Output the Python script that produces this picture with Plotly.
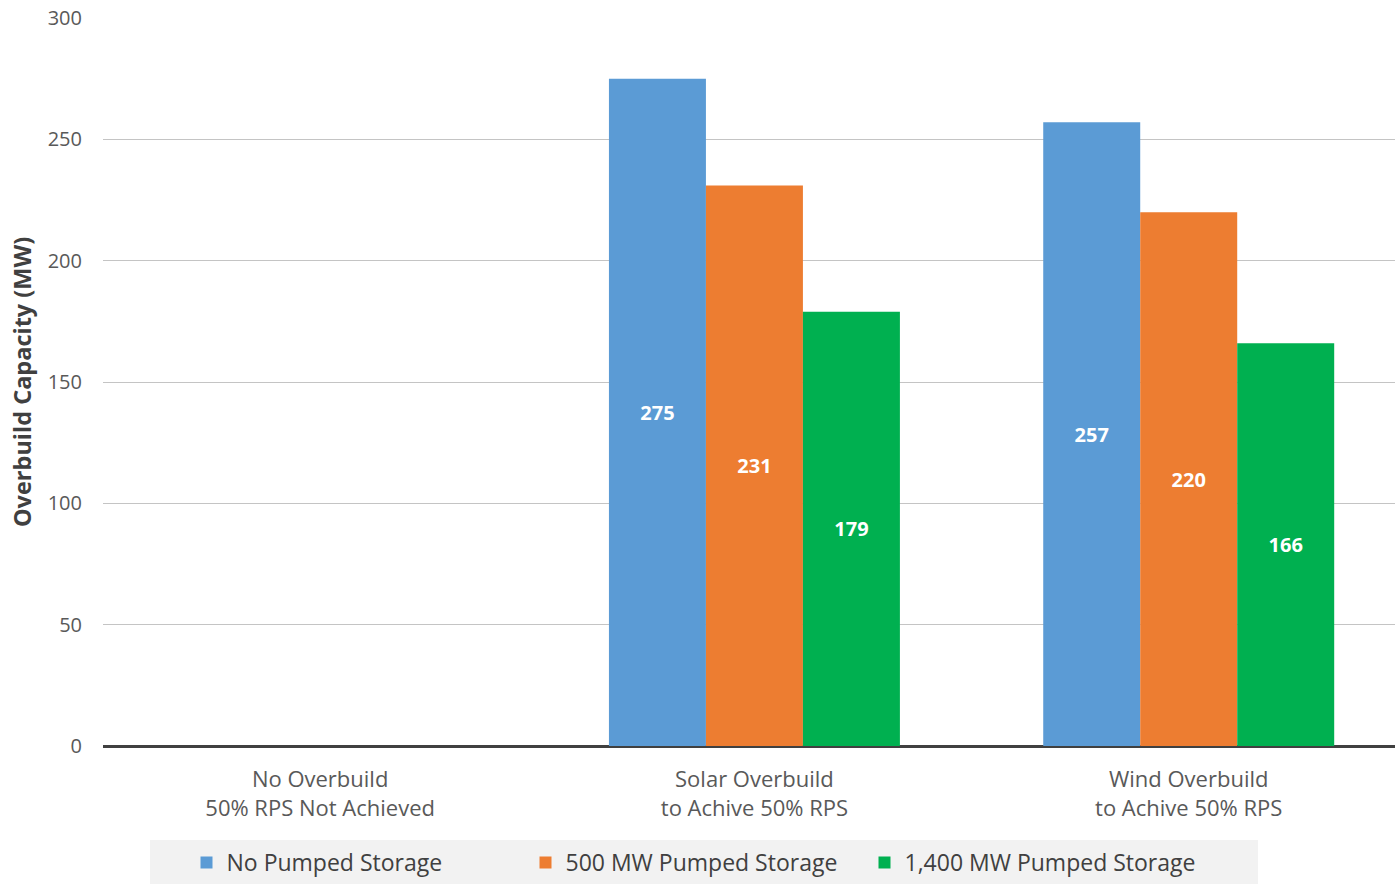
import plotly.graph_objects as go

categories = ["No Overbuild<br>50% RPS Not Achieved",
              "Solar Overbuild<br>to Achive 50% RPS",
              "Wind Overbuild<br>to Achive 50% RPS"]
series_names = ["No Pumped Storage", "500 MW Pumped Storage", "1,400 MW Pumped Storage"]
no_ps = [0, 275, 257]
ps_500 = [0, 231, 220]
ps_1400 = [0, 179, 166]
colors = ["#5b9bd5", "#ed7d31", "#00b050"]

W, H = 1395, 884
ML, MR, MT, MB = 103, 0, 18, 138
PW, PH = W - ML - MR, H - MT - MB

fig = go.Figure()
for name, vals, col in zip(series_names, [no_ps, ps_500, ps_1400], colors):
    fig.add_trace(go.Bar(
        x=categories, y=vals, name=name, marker=dict(color=col, line=dict(width=0)),
        text=[str(v) if v else "" for v in vals], textposition="inside",
        insidetextanchor="middle",
        textfont=dict(color="white", size=20, family="Open Sans", weight="bold"),
        cliponaxis=False,
    ))

def px_to_paper_x(px):
    return (px - ML) / PW

def px_to_paper_y(py):
    return (H - MB - py) / PH

fig.add_shape(type="rect", xref="paper", yref="paper",
              x0=px_to_paper_x(150), x1=px_to_paper_x(1258),
              y0=px_to_paper_y(884), y1=px_to_paper_y(840),
              fillcolor="#f2f2f2", line=dict(width=0), layer="below")

fig.update_layout(
    width=W, height=H,
    margin=dict(l=ML, r=MR, t=MT, b=MB, pad=0, autoexpand=False),
    paper_bgcolor="white", plot_bgcolor="white",
    barmode="group", bargap=0.33, bargroupgap=0,
    font=dict(family="Open Sans", color="#595959"),
    showlegend=True,
    legend=dict(orientation="h", x=px_to_paper_x(695), xanchor="center",
                y=px_to_paper_y(841), yanchor="top",
                bgcolor="rgba(0,0,0,0)", font=dict(size=23, color="#404040"),
                itemwidth=30, traceorder="normal",
                entrywidth=294, entrywidthmode="pixels"),
    xaxis=dict(range=[-0.5, 2.475], showgrid=False, showline=False,
               ticks="outside", ticklen=14, tickcolor="rgba(0,0,0,0)",
               tickfont=dict(size=22, color="#595959"), fixedrange=True),
    yaxis=dict(range=[0, 300], dtick=50, showgrid=True, gridcolor="#c4c4c4", gridwidth=1,
               zeroline=True, zerolinecolor="#404040", zerolinewidth=3,
               showline=False, ticks="outside", ticklen=16, tickcolor="rgba(0,0,0,0)",
               tickfont=dict(size=20, color="#595959"),
               title=dict(text="<b>Overbuild Capacity (MW)</b>", standoff=9,
                          font=dict(size=23.5, color="#404040"))),
)

fig.write_html("out.html")
